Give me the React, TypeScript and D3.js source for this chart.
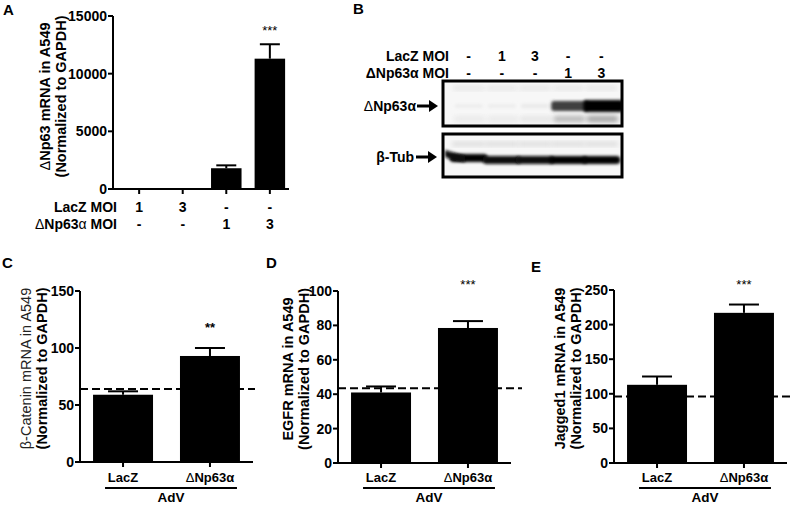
import React from 'react';
import * as d3 from 'd3';

const FONT = '"Liberation Sans", Arial, Helvetica, sans-serif';

// ---------- Panel A data ----------
const aLacZRow = ['1', '3', '-', '-'];
const aNpRow = ['-', '-', '1', '3'];
const aValues = [0, 0, 1800, 11300];
const aErrTop = [0, 0, 2050, 12550];
const aTicks = [0, 5000, 10000, 15000];

// ---------- Panel B data ----------
const bLacZRow = ['-', '1', '3', '-', '-'];
const bNpRow = ['-', '-', '-', '1', '3'];
const bNpBand = [0.03, 0.03, 0.04, 0.75, 1];
const bNpLowerBand = [0, 0, 0.02, 0.25, 0.35];
const bTubBand = [1, 0.95, 0.95, 1, 1];

// ---------- Panels C-E data ----------
const groups = ['LacZ', 'ΔNp63α'];
const cValues = [59, 93];
const cErrTop = [62, 100];
const cBaseline = 64;
const cTicks = [0, 50, 100, 150];

const dValues = [41, 78.5];
const dErrTop = [44.5, 82.5];
const dBaseline = 43.5;
const dTicks = [0, 20, 40, 60, 80, 100];

const eValues = [113, 217];
const eErrTop = [125, 229];
const eBaseline = 96;
const eTicks = [0, 50, 100, 150, 200, 250];

function NpLabel({ thinAlpha = false }: { thinAlpha?: boolean }) {
  return (
    <>
      <tspan fontWeight="normal">Δ</tspan>
      <tspan>Np63</tspan>
      <tspan fontWeight={thinAlpha ? 'normal' : 'bold'}>α</tspan>
    </>
  );
}

interface PanelCfg {
  axisX: number;
  xEnd: number;
  yTop: number;
  yBottom: number;
  max: number;
  ticks: number[];
  values: number[];
  errTop: number[];
  baseline: number;
  stars: string;
  starsY: number;
  starsBold: boolean;
  title1: string;
  title1Bold: boolean;
  titleX1: number;
  titleX2: number;
  letter: string;
  letterX: number;
  letterY: number;
  dashEnd: number;
}

function SmallPanel({ cfg }: { cfg: PanelCfg }) {
  const y = d3.scaleLinear().domain([0, cfg.max]).range([cfg.yBottom, cfg.yTop]);
  const x = d3
    .scaleBand<string>()
    .domain(groups)
    .range([cfg.axisX, cfg.xEnd])
    .paddingInner(0.31)
    .paddingOuter(0.15);
  const bw = x.bandwidth();
  const titleCY = (cfg.yTop + cfg.yBottom) / 2 - 8;
  const c0 = (x(groups[0]) as number) + bw / 2;
  const c1 = (x(groups[1]) as number) + bw / 2;
  return (
    <g fontFamily={FONT} fontWeight="bold">
      <text x={cfg.letterX} y={cfg.letterY} fontSize={15}>{cfg.letter}</text>
      {/* y title */}
      <text
        transform={`translate(${cfg.titleX1},${titleCY}) rotate(-90)`}
        textAnchor="middle"
        fontSize={14.5}
        fontWeight={cfg.title1Bold ? 'bold' : 'normal'}
        fill={cfg.title1Bold ? '#000' : '#222'}
      >
        {cfg.title1}
      </text>
      <text
        transform={`translate(${cfg.titleX2},${titleCY}) rotate(-90)`}
        textAnchor="middle"
        fontSize={14.5}
      >
        (Normalized to GAPDH)
      </text>
      {/* bars */}
      {groups.map((g, i) => {
        const cx = (x(g) as number) + bw / 2;
        return (
          <g key={g}>
            <line x1={cx} x2={cx} y1={y(cfg.values[i])} y2={y(cfg.errTop[i])} stroke="#000" strokeWidth={2} />
            <line x1={cx - 15} x2={cx + 15} y1={y(cfg.errTop[i])} y2={y(cfg.errTop[i])} stroke="#000" strokeWidth={2} />
            <rect x={x(g)} y={y(cfg.values[i])} width={bw} height={y(0) - y(cfg.values[i])} fill="#000" />
          </g>
        );
      })}
      {/* dashed baseline */}
      <line
        x1={cfg.axisX}
        x2={cfg.dashEnd}
        y1={y(cfg.baseline)}
        y2={y(cfg.baseline)}
        stroke="#000"
        strokeWidth={2}
        strokeDasharray="8,4"
      />
      {/* y axis */}
      <line x1={cfg.axisX} x2={cfg.axisX} y1={cfg.yTop} y2={cfg.yBottom} stroke="#000" strokeWidth={2} />
      {cfg.ticks.map((t) => (
        <g key={t}>
          <line x1={cfg.axisX - 5} x2={cfg.axisX} y1={y(t)} y2={y(t)} stroke="#000" strokeWidth={2} />
          <text x={cfg.axisX - 6} y={y(t) + 5} textAnchor="end" fontSize={14}>{t}</text>
        </g>
      ))}
      {/* x axis */}
      <line x1={cfg.axisX - 1} x2={cfg.xEnd} y1={cfg.yBottom} y2={cfg.yBottom} stroke="#000" strokeWidth={2} />
      {groups.map((g) => {
        const cx = (x(g) as number) + bw / 2;
        return <line key={g} x1={cx} x2={cx} y1={cfg.yBottom} y2={cfg.yBottom + 5} stroke="#000" strokeWidth={2} />;
      })}
      <text x={c0} y={482} textAnchor="middle" fontSize={13}>LacZ</text>
      <text x={c1} y={482} textAnchor="middle" fontSize={13}><NpLabel /></text>
      <line x1={c0 - 18} x2={c1 + 27} y1={488} y2={488} stroke="#000" strokeWidth={2} />
      <text x={(c0 - 18 + c1 + 27) / 2} y={502} textAnchor="middle" fontSize={13.5}>AdV</text>
      {/* stars */}
      <text x={c1} y={cfg.starsY} textAnchor="middle" fontSize={13} fontWeight={cfg.starsBold ? 'bold' : 'normal'}>
        {cfg.stars}
      </text>
    </g>
  );
}

function PanelA() {
  const axisX = 113;
  const yTop = 16;
  const yBottom = 189;
  const y = d3.scaleLinear().domain([0, 15000]).range([yBottom, yTop]);
  const idx = aValues.map((_, i) => String(i));
  const x = d3.scaleBand<string>().domain(idx).range([113, 296]).paddingInner(0.3).paddingOuter(0.25);
  const bw = x.bandwidth();
  const titleCY = (yTop + yBottom) / 2 - 6;
  return (
    <g fontFamily={FONT} fontWeight="bold">
      <text x={3} y={15} fontSize={15}>A</text>
      <text transform={`translate(50,${titleCY}) rotate(-90)`} textAnchor="middle" fontSize={14.5}>
        <tspan fontWeight="normal">Δ</tspan>Np63 mRNA in A549
      </text>
      <text transform={`translate(66,${titleCY}) rotate(-90)`} textAnchor="middle" fontSize={14.5}>
        (Normalized to GAPDH)
      </text>
      {idx.map((k, i) => {
        const cx = (x(k) as number) + bw / 2;
        if (aValues[i] <= 0) return null;
        return (
          <g key={k}>
            <line x1={cx} x2={cx} y1={y(aValues[i])} y2={y(aErrTop[i])} stroke="#000" strokeWidth={2} />
            <line x1={cx - 10} x2={cx + 10} y1={y(aErrTop[i])} y2={y(aErrTop[i])} stroke="#000" strokeWidth={2} />
            <rect x={x(k)} y={y(aValues[i])} width={bw} height={y(0) - y(aValues[i])} fill="#000" />
          </g>
        );
      })}
      <line x1={axisX} x2={axisX} y1={yTop} y2={yBottom} stroke="#000" strokeWidth={2} />
      {aTicks.map((t) => (
        <g key={t}>
          <line x1={axisX - 5} x2={axisX} y1={y(t)} y2={y(t)} stroke="#000" strokeWidth={2} />
          <text x={axisX - 6} y={y(t) + 5} textAnchor="end" fontSize={14}>{t}</text>
        </g>
      ))}
      <line x1={axisX - 1} x2={289} y1={yBottom} y2={yBottom} stroke="#000" strokeWidth={2} />
      {idx.map((k, i) => {
        const cx = (x(k) as number) + bw / 2;
        return (
          <g key={k}>
            <line x1={cx} x2={cx} y1={yBottom} y2={yBottom + 5} stroke="#000" strokeWidth={2} />
            <text x={cx} y={212} textAnchor="middle" fontSize={14}>{aLacZRow[i]}</text>
            <text x={cx} y={229} textAnchor="middle" fontSize={14}>{aNpRow[i]}</text>
          </g>
        );
      })}
      <text x={117} y={212} textAnchor="end" fontSize={14}>LacZ MOI</text>
      <text x={117} y={229} textAnchor="end" fontSize={14}><NpLabel thinAlpha /> MOI</text>
      <text x={(x('3') as number) + bw / 2} y={35} textAnchor="middle" fontSize={13} fontWeight="normal">***</text>
    </g>
  );
}

function PanelB() {
  const lanes = bLacZRow.map((_, i) => String(i));
  const x = d3.scaleBand<string>().domain(lanes).range([452, 618]).padding(0);
  const step = x.step();
  const box1 = { x: 443, y: 81, w: 179, h: 45 };
  const box2 = { x: 443, y: 134, w: 179, h: 43 };
  const shade = d3.scaleLinear<string>().domain([0, 1]).range(['#f4f4f4', '#050505']);
  return (
    <g fontFamily={FONT} fontWeight="bold">
      <defs>
        <filter id="blur1" x="-20%" y="-50%" width="140%" height="200%">
          <feGaussianBlur stdDeviation="1.6" />
        </filter>
        <filter id="blur2" x="-20%" y="-50%" width="140%" height="200%">
          <feGaussianBlur stdDeviation="2.5" />
        </filter>
        <clipPath id="clip1"><rect x={box1.x} y={box1.y} width={box1.w} height={box1.h} /></clipPath>
        <clipPath id="clip2"><rect x={box2.x} y={box2.y} width={box2.w} height={box2.h} /></clipPath>
      </defs>
      <text x={353} y={14} fontSize={15}>B</text>
      <text x={449} y={61} textAnchor="end" fontSize={14}>LacZ MOI</text>
      <text x={449} y={78} textAnchor="end" fontSize={14}>ΔNp63α MOI</text>
      {lanes.map((k, i) => {
        const cx = (x(k) as number) + step / 2;
        return (
          <g key={k}>
            <text x={cx} y={61} textAnchor="middle" fontSize={14}>{bLacZRow[i]}</text>
            <text x={cx} y={78} textAnchor="middle" fontSize={14}>{bNpRow[i]}</text>
          </g>
        );
      })}
      {/* box 1 */}
      <rect x={box1.x} y={box1.y} width={box1.w} height={box1.h} fill="#fff" />
      <g clipPath="url(#clip1)">
        <rect x={box1.x} y={box1.y} width={box1.w} height={box1.h} fill="#f7f7f7" />
        {lanes.map((k, i) => {
          const cx = (x(k) as number) + step / 2;
          return (
            <g key={k}>
              <rect x={cx - 16} y={86} width={32} height={4} rx={2} fill="#ddd" filter="url(#blur2)" opacity={0.8} />
              <rect x={cx - 15} y={116} width={32} height={6} rx={3} fill={shade(bNpLowerBand[i] + 0.05)} filter="url(#blur2)" opacity={0.9} />
              <rect
                x={cx - 14 - bNpBand[i] * 4}
                y={106 - 2 - bNpBand[i] * 4}
                width={28 + bNpBand[i] * 12}
                height={4 + bNpBand[i] * 8}
                rx={3}
                fill={shade(bNpBand[i])}
                filter="url(#blur1)"
              />
            </g>
          );
        })}
      </g>
      <rect x={box1.x} y={box1.y} width={box1.w} height={box1.h} fill="none" stroke="#000" strokeWidth={3} />
      {/* box 2 */}
      <rect x={box2.x} y={box2.y} width={box2.w} height={box2.h} fill="#fff" />
      <g clipPath="url(#clip2)">
        <rect x={box2.x} y={box2.y} width={box2.w} height={box2.h} fill="#f7f7f7" />
        {lanes.map((k, i) => {
          const cx = (x(k) as number) + step / 2;
          return (
            <g key={k}>
              <rect x={cx - 17} y={142} width={34} height={4} rx={2} fill="#d8d8d8" filter="url(#blur2)" />
              <rect
                x={cx - 19}
                y={i === 0 ? 154 : 156}
                width={38}
                height={8}
                rx={4}
                fill={shade(bTubBand[i])}
                filter="url(#blur1)"
              />
            </g>
          );
        })}
        <path d="M445,150 Q455,153 465,156 L465,162 Q452,160 445,157 Z" fill="#111" filter="url(#blur1)" />
      </g>
      <rect x={box2.x} y={box2.y} width={box2.w} height={box2.h} fill="none" stroke="#000" strokeWidth={3} />
      {/* side labels with arrows */}
      <text x={416} y={111} textAnchor="end" fontSize={14}><tspan fontWeight="normal">Δ</tspan>Np63α</text>
      <line x1={417} x2={431} y1={106} y2={106} stroke="#000" strokeWidth={3} />
      <path d="M429,100 L438,106 L429,112 Z" fill="#000" />
      <text x={414} y={162} textAnchor="end" fontSize={14}>β-Tub</text>
      <line x1={416} x2={430} y1={157} y2={157} stroke="#000" strokeWidth={3} />
      <path d="M428,151 L437,157 L428,163 Z" fill="#000" />
    </g>
  );
}

const cCfg: PanelCfg = {
  axisX: 80, xEnd: 253, yTop: 291, yBottom: 462, max: 150, ticks: cTicks,
  values: cValues, errTop: cErrTop, baseline: cBaseline, stars: '**', starsY: 332, starsBold: true,
  title1: 'β-Catenin mRNA in A549', title1Bold: false, titleX1: 31, titleX2: 47,
  letter: 'C', letterX: 2, letterY: 268, dashEnd: 255,
};
const dCfg: PanelCfg = {
  axisX: 338, xEnd: 511, yTop: 291, yBottom: 463, max: 100, ticks: dTicks,
  values: dValues, errTop: dErrTop, baseline: dBaseline, stars: '***', starsY: 289, starsBold: false,
  title1: 'EGFR mRNA in A549', title1Bold: true, titleX1: 293, titleX2: 309,
  letter: 'D', letterX: 266, letterY: 268, dashEnd: 522,
};
const eCfg: PanelCfg = {
  axisX: 614, xEnd: 787, yTop: 290, yBottom: 463, max: 250, ticks: eTicks,
  values: eValues, errTop: eErrTop, baseline: eBaseline, stars: '***', starsY: 289, starsBold: false,
  title1: 'Jagged1 mRNA in A549', title1Bold: true, titleX1: 565, titleX2: 581,
  letter: 'E', letterX: 531, letterY: 272, dashEnd: 790,
};

export default function App() {
  return (
    <svg
      width={792}
      height={506}
      viewBox="0 0 792 506"
      style={{ position: 'absolute', left: 0, top: 0, background: '#fff' }}
    >
      <rect width={792} height={506} fill="#fff" />
      <PanelA />
      <PanelB />
      <SmallPanel cfg={cCfg} />
      <SmallPanel cfg={dCfg} />
      <SmallPanel cfg={eCfg} />
    </svg>
  );
}
